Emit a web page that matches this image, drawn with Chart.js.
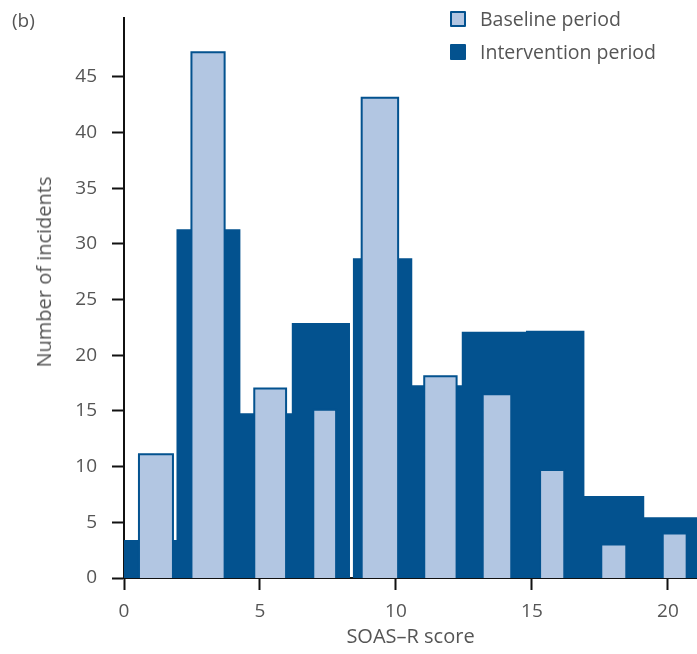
<!DOCTYPE html>
<html>
<head>
<meta charset="utf-8">
<script src="https://cdn.jsdelivr.net/npm/chart.js@4.4.1/dist/chart.umd.min.js"></script>
<style>
  html, body { margin: 0; padding: 0; background: #ffffff; }
  #wrap { position: relative; width: 697px; height: 654px; overflow: hidden; font-family: 'Open Sans', sans-serif; color: #555; }
  #chart { position: absolute; left: 0; top: 0; }
  #panel { position: absolute; left: 12px; top: 7px; font-size: 19px; line-height: 26px; }
  #ytitle { position: absolute; left: 44px; top: 272px; transform: translate(-50%, -50%) rotate(-90deg); white-space: nowrap; font-size: 20px; line-height: 24px; }
  #legend { position: absolute; left: 450px; top: 2px; }
  .item { display: flex; align-items: center; height: 33px; font-size: 19.5px; }
  .sw { width: 12px; height: 12px; border-width: 2px; border-style: solid; margin-right: 14px; border-radius: 1px; }
</style>
</head>
<body>
<div id="wrap">
  <canvas id="chart" width="697" height="654"></canvas>
  <div id="panel">(b)</div>
  <div id="ytitle">Number of incidents</div>
  <div id="legend"></div>
</div>
<script>
// ---- data ----
const seriesNames = ['Baseline period', 'Intervention period'];
const xAxisTitle = 'SOAS–R score';
const yAxisTitle = 'Number of incidents';
const xTicks = [0, 5, 10, 15, 20];
const yTicks = [0, 5, 10, 15, 20, 25, 30, 35, 40, 45];

// Baseline period: bar extents (SOAS-R score units) and counts
const baselineStart  = [0.55, 2.48, 4.79, 6.96, 8.74, 11.04, 13.19, 15.30, 17.55, 19.81];
const baselineEnd    = [1.80, 3.70, 5.96, 7.80, 10.08, 12.23, 14.24, 16.19, 18.47, 20.69];
const baselineCounts = [11.1, 47.2, 17.0, 15.1, 43.1, 18.1, 16.5, 9.7, 3.0, 4.0];

// Intervention period: bin extents and counts
const interventionStart  = [0, 1.93, 4.28, 6.17, 8.41, 10.60, 12.42, 14.78, 16.93, 19.13];
const interventionEnd    = [1.93, 4.28, 6.17, 8.31, 10.60, 12.42, 14.78, 16.93, 19.13, 21.3];
const interventionCounts = [3.4, 31.3, 14.8, 22.9, 28.7, 17.3, 22.1, 22.2, 7.35, 5.45];

const xMin = 0, xMax = 21.07, yMin = 0, yMax = 50.27;

// ---- build histogram outlines from the arrays ----
function separateBars(starts, ends, counts) {
  const pts = [];
  for (let i = 0; i < counts.length; i++) {
    pts.push({x: starts[i], y: 0}, {x: starts[i], y: counts[i]},
             {x: ends[i], y: counts[i]}, {x: ends[i], y: 0},
             {x: ends[i], y: null});
  }
  return pts;
}
function contiguousBars(starts, ends, counts) {
  const pts = [];
  for (let i = 0; i < counts.length; i++) {
    if (i > 0 && Math.abs(starts[i] - ends[i - 1]) > 1e-6) {
      pts.push({x: (starts[i] + ends[i - 1]) / 2, y: null});
    }
    pts.push({x: starts[i], y: counts[i]}, {x: ends[i], y: counts[i]});
  }
  return pts;
}

const darkBlue = '#03528f';
const lightBlue = '#b2c6e2';
const textColor = '#555555';
const axisColor = '#111111';
const fontFamily = "'Open Sans', sans-serif";

function noScalePadding(s) {
  s.paddingTop = 0; s.paddingBottom = 0; s.paddingLeft = 0; s.paddingRight = 0;
}

const chart = new Chart(document.getElementById('chart'), {
  type: 'line',
  data: {
    datasets: [
      {
        label: seriesNames[0],
        data: separateBars(baselineStart, baselineEnd, baselineCounts),
        backgroundColor: lightBlue,
        borderColor: darkBlue,
        borderWidth: 2,
        fill: 'origin',
        pointRadius: 0,
        tension: 0,
        spanGaps: false,
        borderJoinStyle: 'miter'
      },
      {
        label: seriesNames[1],
        data: contiguousBars(interventionStart, interventionEnd, interventionCounts),
        backgroundColor: darkBlue,
        borderColor: darkBlue,
        borderWidth: 0,
        fill: 'origin',
        pointRadius: 0,
        tension: 0,
        spanGaps: false
      }
    ]
  },
  options: {
    responsive: false,
    devicePixelRatio: 1,
    animation: false,
    layout: { padding: { top: 18, left: 0, right: 0, bottom: 0 } },
    plugins: {
      legend: { display: false },
      tooltip: { enabled: false },
      title: { display: false }
    },
    scales: {
      x: {
        type: 'linear',
        min: xMin,
        max: xMax,
        afterBuildTicks: (s) => { s.ticks = xTicks.map(v => ({value: v})); },
        afterFit: (s) => { s.height = 76; noScalePadding(s); },
        border: { display: true, color: axisColor, width: 2 },
        grid: { display: true, drawOnChartArea: false, drawTicks: true, tickLength: 12, tickColor: axisColor, tickWidth: 2 },
        ticks: { color: textColor, font: { family: fontFamily, size: 19 }, padding: 10, maxRotation: 0 },
        title: { display: true, text: xAxisTitle, color: textColor, font: { family: fontFamily, size: 20 }, padding: { top: 0, bottom: 5 } }
      },
      y: {
        type: 'linear',
        min: yMin,
        max: yMax,
        afterBuildTicks: (s) => { s.ticks = yTicks.map(v => ({value: v})); },
        afterFit: (s) => { s.width = 124; noScalePadding(s); },
        border: { display: true, color: axisColor, width: 2 },
        grid: { display: true, drawOnChartArea: false, drawTicks: true, tickLength: 12, tickColor: axisColor, tickWidth: 2 },
        ticks: { color: textColor, font: { family: fontFamily, size: 19 }, padding: 15 },
        title: { display: false, text: yAxisTitle }
      }
    }
  }
});

// HTML legend generated from the datasets
const legend = document.getElementById('legend');
chart.data.datasets.forEach(ds => {
  const item = document.createElement('div');
  item.className = 'item';
  const sw = document.createElement('span');
  sw.className = 'sw';
  sw.style.background = ds.backgroundColor;
  sw.style.borderColor = ds.borderColor;
  const t = document.createElement('span');
  t.textContent = ds.label;
  item.appendChild(sw);
  item.appendChild(t);
  legend.appendChild(item);
});
document.getElementById('ytitle').textContent = yAxisTitle;
</script>
</body>
</html>
